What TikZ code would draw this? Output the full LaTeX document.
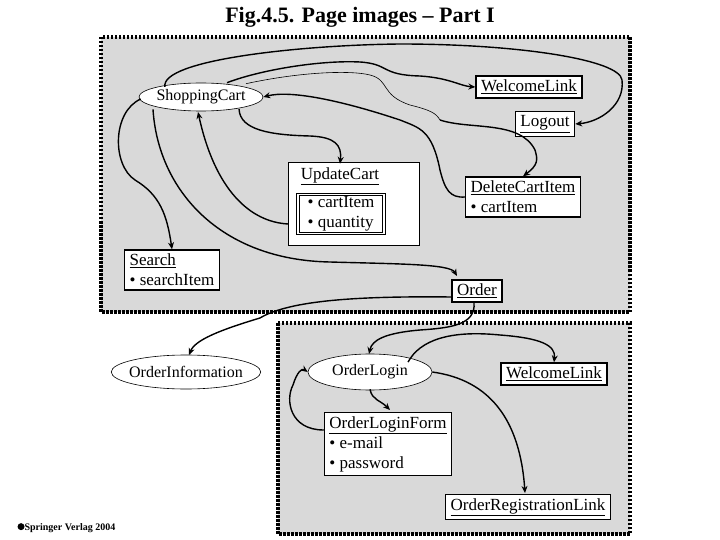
\documentclass[tikz,border=0pt]{standalone}
\usepackage{fontspec}
\setmainfont{Liberation Serif}
\usetikzlibrary{arrows.meta,shapes.geometric}
\begin{document}
\begin{tikzpicture}[x=1pt,y=-1pt,
  txt/.style={font=\fontsize{17}{20}\selectfont},
  box/.style={draw,fill=white,line width=1.4pt,txt,inner xsep=5pt,inner ysep=4pt,align=left},
  ell/.style={draw,fill=white,ellipse,line width=0.6pt,font=\fontsize{16}{18}\selectfont,inner xsep=-4pt,inner ysep=1pt},
  area/.style={fill=black!15,draw=black,line width=3.5pt,dash pattern=on 2.5pt off 1.5pt},
  e/.style={line width=1.4pt,-{Stealth[length=7pt,width=6pt]}},
  thin/.style={line width=0.6pt}]
\useasboundingbox (0,0) rectangle (720,540);
\node[font=\bfseries\fontsize{22}{24}\selectfont] (title) at (360,17) {Fig.4.5. Page images -- Part I};
\draw[area] (101,37) rectangle (630,312);
\draw[area] (278,323) rectangle (630,534);
% top nodes
\node[ell,minimum width=124pt,minimum height=28pt] (sc) at (201,97) {ShoppingCart};
\node[box] (wl) at (529,87) {\underline{WelcomeLink}};
\node[box] (lo) at (545,124) {\underline{Logout}};
\node[draw,fill=white,line width=0.6pt,minimum width=131pt,minimum height=83pt] (uc) at (354,204) {};
\node[txt] (uct) at (340,176) {\underline{UpdateCart}};
\node[draw,double,double distance=1.5pt,line width=0.9pt,fill=white,txt,align=left,inner sep=2pt,minimum width=86pt] (ucf) at (341,214) {• cartItem\\• quantity};
\node[box] (dci) at (523,197) {\underline{DeleteCartItem}\\• cartItem};
\node[box] (se) at (172,270) {\underline{Search}\\• searchItem};
\node[box] (or) at (477,291) {\underline{Order}};
% bottom nodes
\node[ell,minimum width=146pt,minimum height=34pt] (oi) at (186,372) {OrderInformation};
\node[ell,minimum width=124pt,minimum height=36pt] (ol) at (370,372) {OrderLogin};
\node[box] (wl2) at (554,374) {\underline{WelcomeLink}};
\node[box] (olf) at (388,444) {\underline{OrderLoginForm}\\• e-mail\\• password};
\node[box] (orl) at (528,507) {\underline{OrderRegistrationLink}};
\node[anchor=west,font=\bfseries\fontsize{10}{12}\selectfont] (cp) at (14,528) {\raisebox{0.5pt}{\tikz\fill (0,0) circle (3.5pt);}Springer Verlag 2004};
% edges
\draw[e] (sc.north west) ++(8,0) .. controls (160,60) and (300,45) .. (400,44) .. controls (520,44) and (620,60) .. (622,80) .. controls (625,105) and (600,122) .. (lo.east);
\draw[e] (sc.north) ++(26,0) .. controls (260,70) and (320,60) .. (360,62) .. controls (390,64) and (380,75) .. (420,76) .. controls (450,78) and (460,86) .. (wl.west);
\coordinate (m) at (440,120);
\draw[thin] (sc.north) ++(45,1) .. controls (300,72) and (350,70) .. (370,75) .. controls (390,80) and (380,95) .. (410,105) .. controls (430,110) and (436,113) .. (m);
\draw[e] (m) .. controls (470,130) and (520,120) .. (535,150) .. controls (538,160) and (538,165) .. (dci.north);
\draw[e] (dci.west) .. controls (450,198) and (445,190) .. (440,170) .. controls (432,130) and (420,128) .. (400,120) .. controls (340,100) and (290,90) .. (sc.east);
\draw[e] (sc.south east) ++(-6,2) .. controls (240,130) and (270,135) .. (310,136) .. controls (335,137) and (342,145) .. (uct.north);
\draw[e] (uc.west) ++(0,20) .. controls (250,222) and (215,190) .. (198,112);
\draw[e] (sc.west) ++(2,2) .. controls (112,112) and (112,165) .. (135,180) .. controls (160,195) and (167,215) .. (se.north);
\draw[e] (sc.south) ++(-48,-2) .. controls (158,190) and (220,260) .. (330,262) .. controls (400,264) and (450,264) .. (457,276);
\draw[e] (or.west) ++(0,6) .. controls (360,296) and (290,300) .. (260,318) .. controls (220,330) and (195,340) .. (189,355);
\draw[e] (or.south) ++(-3,0) .. controls (476,325) and (450,328) .. (420,330) .. controls (385,333) and (372,340) .. (369,354);
\draw[e] (ol.north east) ++(-6,3) .. controls (420,340) and (450,330) .. (500,335) .. controls (540,338) and (556,345) .. (wl2.north);
\draw[e] (ol.east) .. controls (490,380) and (520,420) .. (525,493);
\draw[e] (ol.south) ++(0,-1) .. controls (372,400) and (380,400) .. (390,410);
\draw[e] (olf.west) ++(0,-14) .. controls (290,430) and (285,400) .. (293,385) .. controls (297,372) and (302,368) .. (ol.west);
\end{tikzpicture}
\end{document}
